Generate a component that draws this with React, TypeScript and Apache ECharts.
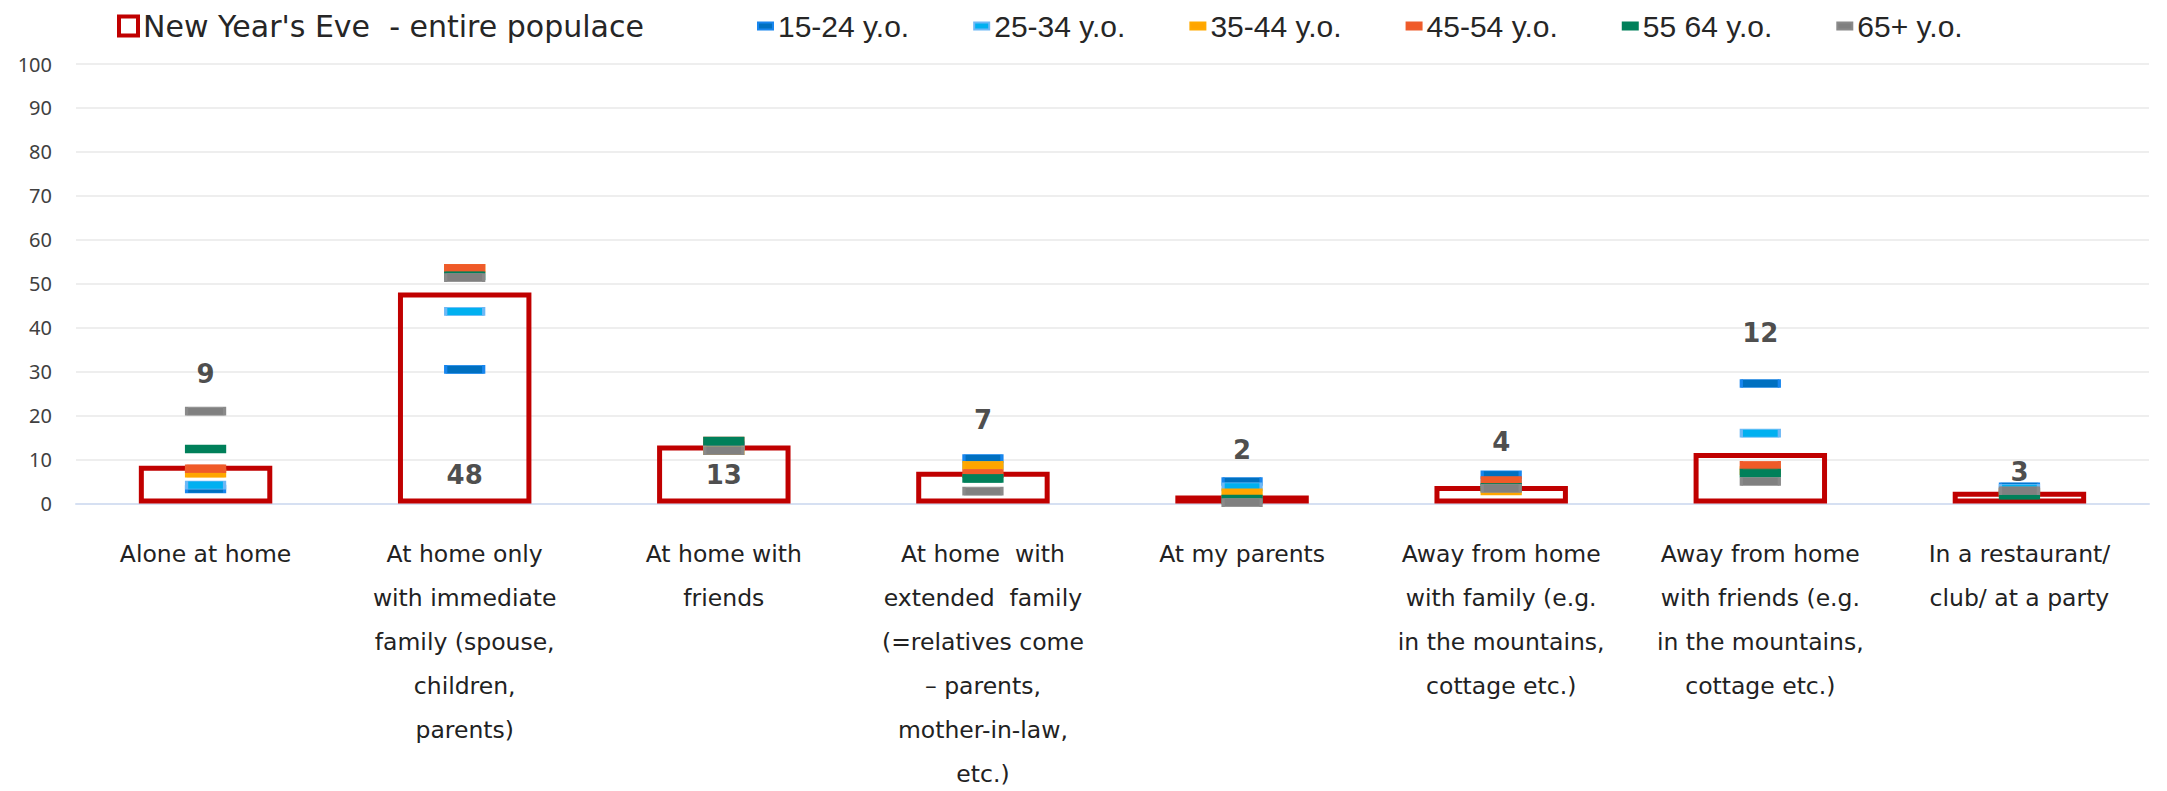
import React, { useEffect, useRef } from "react";
import * as echarts from "echarts";

const categories = [
  "Alone at home",
  "At home only\nwith immediate\nfamily (spouse,\nchildren,\nparents)",
  "At home with\nfriends",
  "At home  with\nextended  family\n(=relatives come\n– parents,\nmother-in-law,\netc.)",
  "At my parents",
  "Away from home\nwith family (e.g.\nin the mountains,\ncottage etc.)",
  "Away from home\nwith friends (e.g.\nin the mountains,\ncottage etc.)",
  "In a restaurant/\nclub/ at a party",
];

const entireName = "New Year's Eve  - entire populace";
const entirePopulace = [8.6, 48, 13.2, 7.2, 1.8, 4.0, 11.5, 2.7];

const ageNames = ["15-24 y.o.", "25-34 y.o.", "35-44 y.o.", "45-54 y.o.", "55 64 y.o.", "65+ y.o."];
const age15_24 = [3.3, 30.5, 13.1, 10.2, 5.0, 6.5, 27.3, 3.8];
const age25_34 = [4.2, 43.7, 13.1, 8.7, 3.8, 4.5, 16.0, 3.45];
const age35_44 = [6.9, 53.5, 12.0, 8.7, 2.4, 2.85, 7.5, 2.5];
const age45_54 = [7.9, 53.5, 14.2, 6.8, 0.8, 5.2, 8.7, 2.6];
const age55_64 = [12.4, 51.8, 14.2, 5.7, 1.0, 3.7, 6.9, 1.9];
const age65plus = [21.0, 51.4, 12.0, 2.8, 0.2, 3.45, 5.0, 2.9];

// heights (in axis units) where the rounded totals are written
const labelLevels = [29.5, 6.4, 6.5, 19.1, 12.1, 14.0, 38.9, 7.2];

const yMin = 0;
const yMax = 100;
const yStep = 10;

const ageFill = ["#0070C0", "#00B0F0", "#FFA500", "#F05A28", "#00805A", "#808080"];
const ageBorder = ["#1886EE", "#6CB8F6", "#FFAA00", "#EE5C2C", "#00805A", "#8A8A8A"];

export default function App() {
  const ref = useRef<HTMLDivElement>(null);

  useEffect(() => {
    if (!ref.current) return;
    const chart = echarts.init(ref.current, undefined, { renderer: "svg" });
    const ageData = [age15_24, age25_34, age35_44, age45_54, age55_64, age65plus];

    const option: any = {
      animation: false,
      backgroundColor: "#ffffff",
      legend: [
        {
          data: [{ name: entireName, icon: "rect" }],
          left: 112,
          top: 6,
          itemWidth: 19,
          itemHeight: 19,
          itemGap: 10,
          itemStyle: { color: "rgba(0,0,0,0)", borderColor: "#C00000", borderWidth: 4 },
          textStyle: { fontFamily: "DejaVu Sans", fontSize: 30, color: "#262626" },
        },
        {
          data: ageNames.map((n) => ({ name: n, icon: "rect" })),
          left: 752,
          top: 6,
          itemWidth: 15,
          itemHeight: 7,
          itemGap: 64,
          textStyle: { fontFamily: "Liberation Sans", fontSize: 30, color: "#262626" },
        },
      ],
      grid: {
        left: 76,
        right: 18,
        top: 64,
        bottom: 287.5,
        containLabel: false,
        outerBoundsMode: "none",
      },
      xAxis: {
        type: "category",
        data: categories,
        axisTick: { show: false },
        axisLine: { lineStyle: { color: "#D6E0F2", width: 2 } },
        axisLabel: {
          interval: 0,
          margin: 28,
          fontFamily: "DejaVu Sans",
          fontSize: 23.5,
          lineHeight: 44,
          color: "#222222",
          align: "center",
        },
      },
      yAxis: {
        type: "value",
        min: yMin,
        max: yMax,
        interval: yStep,
        axisLine: { show: false },
        axisTick: { show: false },
        splitLine: { lineStyle: { color: "#E8E8E8", width: 1.5 } },
        axisLabel: { fontFamily: "Noto Sans", fontSize: 20, color: "#404040", margin: 24 },
      },
      series: [
        {
          name: entireName,
          type: "bar",
          data: entirePopulace,
          barWidth: "51.5%",
          itemStyle: { color: "rgba(0,0,0,0)", borderColor: "#C00000", borderWidth: 5 },
          z: 2,
        },
        ...ageNames.map((n, i) => ({
          name: n,
          type: "scatter",
          data: ageData[i],
          symbol: "rect",
          symbolSize: [38, 8],
          itemStyle: { color: ageFill[i], borderColor: ageBorder[i], borderWidth: 1.5, opacity: 1 },
          z: 3,
        })),
        {
          name: "_labels",
          type: "scatter",
          data: labelLevels,
          symbolSize: 1,
          silent: true,
          itemStyle: { color: "rgba(0,0,0,0)" },
          label: {
            show: true,
            position: "inside",
            formatter: (p: any) => String(Math.round(entirePopulace[p.dataIndex])),
            fontFamily: "DejaVu Sans",
            fontWeight: "bold",
            fontSize: 26,
            color: "#1e1e1e",
          },
          z: 5,
        },
      ],
    };

    chart.setOption(option);
    return () => chart.dispose();
  }, []);

  return (
    <div
      ref={ref}
      style={{ position: "absolute", left: 0, top: 0, width: 2167, height: 791 }}
    />
  );
}
